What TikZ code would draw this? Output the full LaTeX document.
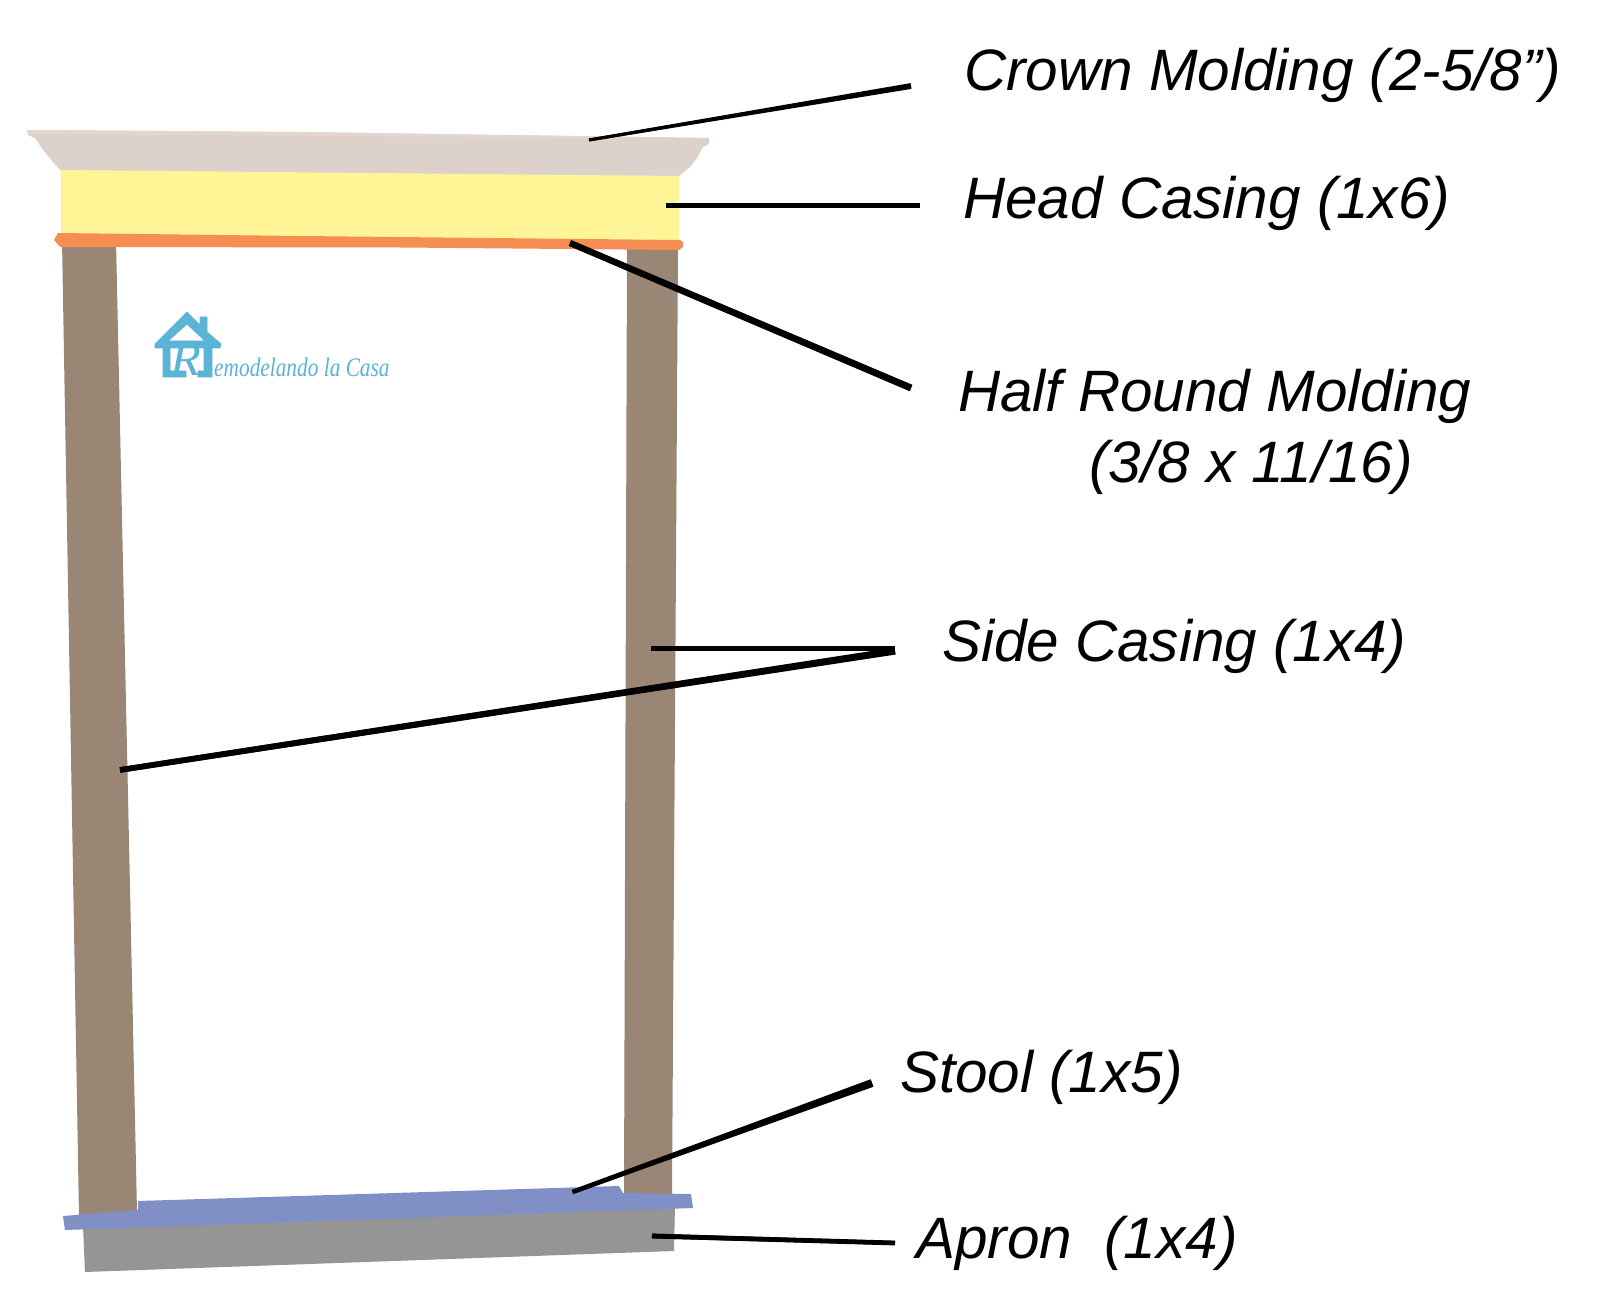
\documentclass[tikz,border=0pt]{standalone}
\usetikzlibrary{calc}
\usepackage{fontspec}
\setmainfont{Liberation Sans}
\newfontfamily\logofont{Liberation Serif}
\definecolor{crowncol}{HTML}{DDD2CB}
\definecolor{crownedge}{HTML}{E4D6CD}
\definecolor{headcol}{HTML}{FFF597}
\definecolor{halfcol}{HTML}{F68D52}
\definecolor{sidecol}{HTML}{998675}
\definecolor{stoolcol}{HTML}{8090C6}
\definecolor{aproncol}{HTML}{959595}
\definecolor{logocol}{HTML}{5BB3D6}
\tikzset{
  label text/.style={anchor=base west,inner sep=0pt,font=\fontsize{43.8pt}{50pt}\selectfont\itshape,text=black},
  leader/.style={draw=black,line cap=butt},
  logo text/.style={anchor=base west,inner sep=0pt,text=logocol}
}
% leader that widens from #1 (half width #3) to #2 (half width #4)
\newcommand{\leaderline}[4]{%
  \draw[leader,line width=#3*2] (#1) -- (#2);
  \fill[black] ($(#1)!#3!90:(#2)$) -- ($(#2)!#4!-90:(#1)$) -- ($(#2)!#4!90:(#1)$) -- ($(#1)!#3!-90:(#2)$) -- cycle;
}
\begin{document}
\begin{tikzpicture}[x=0.75pt,y=-0.75pt]
\useasboundingbox (0,0) rectangle (1600,1312);
\fill[white] (0,0) rectangle (1600,1312);
% side casings
\fill[sidecol] (62,240) -- (116,240) -- (137,1212) -- (79,1216) -- cycle;
\fill[sidecol] (627,245) -- (678,245) -- (672,1196) -- (624,1196) -- cycle;
% crown
\fill[crowncol] (27,130) -- (300,132) -- (709,138) -- (709,144) -- (703,147)
  -- (697,158) -- (690,167) -- (678,177) -- (61,171)
  -- (53,162) -- (43,150) -- (35,138) -- (28,135) -- cycle;
\fill[crownedge] (27,130) -- (300,132) -- (709,138) -- (500,137) -- (30,134) -- cycle;
% head casing
\fill[headcol] (61,170) -- (679,176) -- (679,240) -- (61,234) -- cycle;
% half round
\fill[halfcol] (58,233) -- (300,236) -- (680,240) -- (683,242) -- (683,247) -- (679,250) -- (400,247.5) -- (60,247) -- (54,240) -- cycle;
% apron
\fill[aproncol] (83,1226) -- (675,1205) -- (674,1251) -- (85,1272) -- cycle;
% stool
\fill[stoolcol] (63,1216) -- (138,1210) -- (138,1201) -- (619,1186) -- (623,1193) -- (691,1194) -- (693,1208) -- (65,1230) -- cycle;
% logo
\begin{scope}
\fill[logocol,even odd rule,draw=logocol,line width=0.5pt,line join=round] (155,344) -- (187,312) -- (200,325) -- (200,317) -- (207,317) -- (207,332) -- (221,344) -- (220,348) -- (212,348) -- (212,377) -- (198,377) -- (198,371) -- (204,371) -- (204,348) -- (170,348) -- (170,371) -- (186,371) -- (186,377) -- (163,377) -- (163,348) -- (155,348) -- cycle
  (168,341) -- (187,324) -- (205,341) -- cycle;
\node[logo text,font=\logofont\itshape\fontsize{36pt}{36pt}\selectfont,xscale=1.05] (logoR) at (170,376) {R};
\node[logo text,font=\logofont\itshape\fontsize{20pt}{20pt}\selectfont,xscale=0.8] (logoT) at (214,377) {emodelando la Casa};
\end{scope}
% labels
\node[label text] (crownL) at (964,91) {Crown Molding (2-5/8”)};
\node[label text] (headL) at (963,219) {Head Casing (1x6)};
\node[label text] (halfL) at (958,412) {Half Round Molding};
\node[label text] (halfLb) at (1089,483) {(3/8 x 11/16)};
\node[label text] (sideL) at (942,661) {Side Casing (1x4)};
\node[label text] (stoolL) at (900,1092) {Stool (1x5)};
\node[label text] (apronL) at (916,1258) {Apron\ \ (1x4)};
% connector ends
\coordinate (cA) at (589,140); \coordinate (cB) at (911,86);
\coordinate (hA) at (666,205.3); \coordinate (hB) at (920,205.3);
\coordinate (rA) at (570,243); \coordinate (rB) at (911,388);
\coordinate (sJ) at (895,648.7); \coordinate (sK) at (895,651); \coordinate (sA) at (651,648.7); \coordinate (sC) at (120,770);
\coordinate (tA) at (572.5,1192); \coordinate (tB) at (872,1083);
\coordinate (aA) at (652,1236); \coordinate (aB) at (895,1243);
\leaderline{cA}{cB}{1.1pt}{2.2pt}
\draw[leader,line width=3.6pt] (hA) -- (hB);
\leaderline{rA}{rB}{2.3pt}{2.6pt}
\draw[leader,line width=3.6pt] (sA) -- (sJ);
\leaderline{sC}{sK}{2.1pt}{2.7pt}
\leaderline{tA}{tB}{1.6pt}{3pt}
\leaderline{aA}{aB}{1.8pt}{1.5pt}
\end{tikzpicture}
\end{document}
